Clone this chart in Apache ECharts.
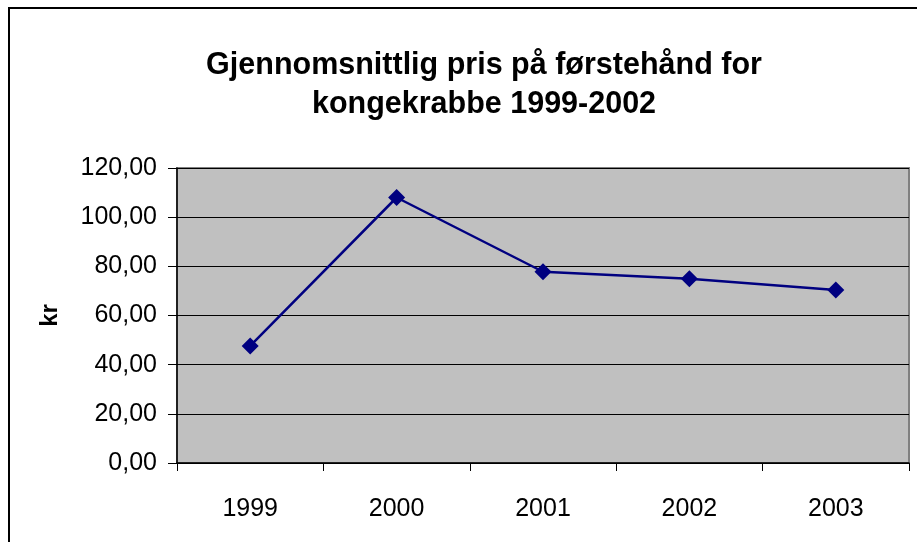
<!DOCTYPE html>
<html>
<head>
<meta charset="utf-8">
<script src="https://cdn.jsdelivr.net/npm/echarts@6/dist/echarts.min.js"></script>
<style>
  html, body { margin: 0; padding: 0; background: #fff; }
  #wrap { position: relative; width: 917px; height: 542px; overflow: hidden; }
  #chart { position: absolute; left: 0; top: 0; width: 917px; height: 542px; }
  #frame { position: absolute; left: 8px; top: 7px; width: 1000px; height: 1000px;
           border-left: 2px solid #000; border-top: 2px solid #000; pointer-events: none; }
</style>
</head>
<body>
<div id="wrap">
  <div id="chart"></div>
  <div id="frame"></div>
</div>
<script>
const years = ["1999", "2000", "2001", "2002", "2003"];
const prices = [47.6, 108.0, 77.8, 74.9, 70.4];
const titleText = "Gjennomsnittlig pris på førstehånd for\nkongekrabbe 1999-2002";

const font = "'Liberation Sans', Arial, sans-serif";
const chart = echarts.init(document.getElementById("chart"));
chart.setOption({
  animation: false,
  title: {
    text: titleText,
    left: 479,
    top: 41,
    textAlign: "center",
    textStyle: { fontFamily: font, fontSize: 30.5, fontWeight: "bold", color: "#000", lineHeight: 39 }
  },
  grid: {
    left: 177, top: 168, right: 8, bottom: 79,
    show: true, backgroundColor: "#c0c0c0", borderColor: "#808080", borderWidth: 2
  },
  xAxis: {
    type: "category",
    data: years,
    boundaryGap: true,
    axisLine: { lineStyle: { color: "#000", width: 1.5 } },
    axisTick: { show: true, length: 8, lineStyle: { color: "#000" } },
    axisLabel: { color: "#000", fontFamily: font, fontSize: 25, margin: 34 },
    splitLine: { show: false }
  },
  yAxis: {
    type: "value",
    min: 0, max: 120, interval: 20,
    name: "kr",
    nameLocation: "middle",
    nameRotate: 90,
    nameGap: 115,
    nameTextStyle: { fontFamily: font, fontSize: 24, fontWeight: "bold", color: "#000" },
    axisLine: { show: true, lineStyle: { color: "#000", width: 1.5 } },
    axisTick: { show: true, length: 9, lineStyle: { color: "#000" } },
    axisLabel: {
      color: "#000", fontFamily: font, fontSize: 25, margin: 20,
      formatter: v => v.toFixed(2).replace(".", ",")
    },
    splitLine: { show: true, lineStyle: { color: "#000", width: 1 } }
  },
  series: [{
    type: "line",
    data: prices,
    symbol: "diamond",
    symbolSize: 17,
    itemStyle: { color: "#000080" },
    lineStyle: { color: "#000080", width: 2.5 }
  }]
});
</script>
</body>
</html>
